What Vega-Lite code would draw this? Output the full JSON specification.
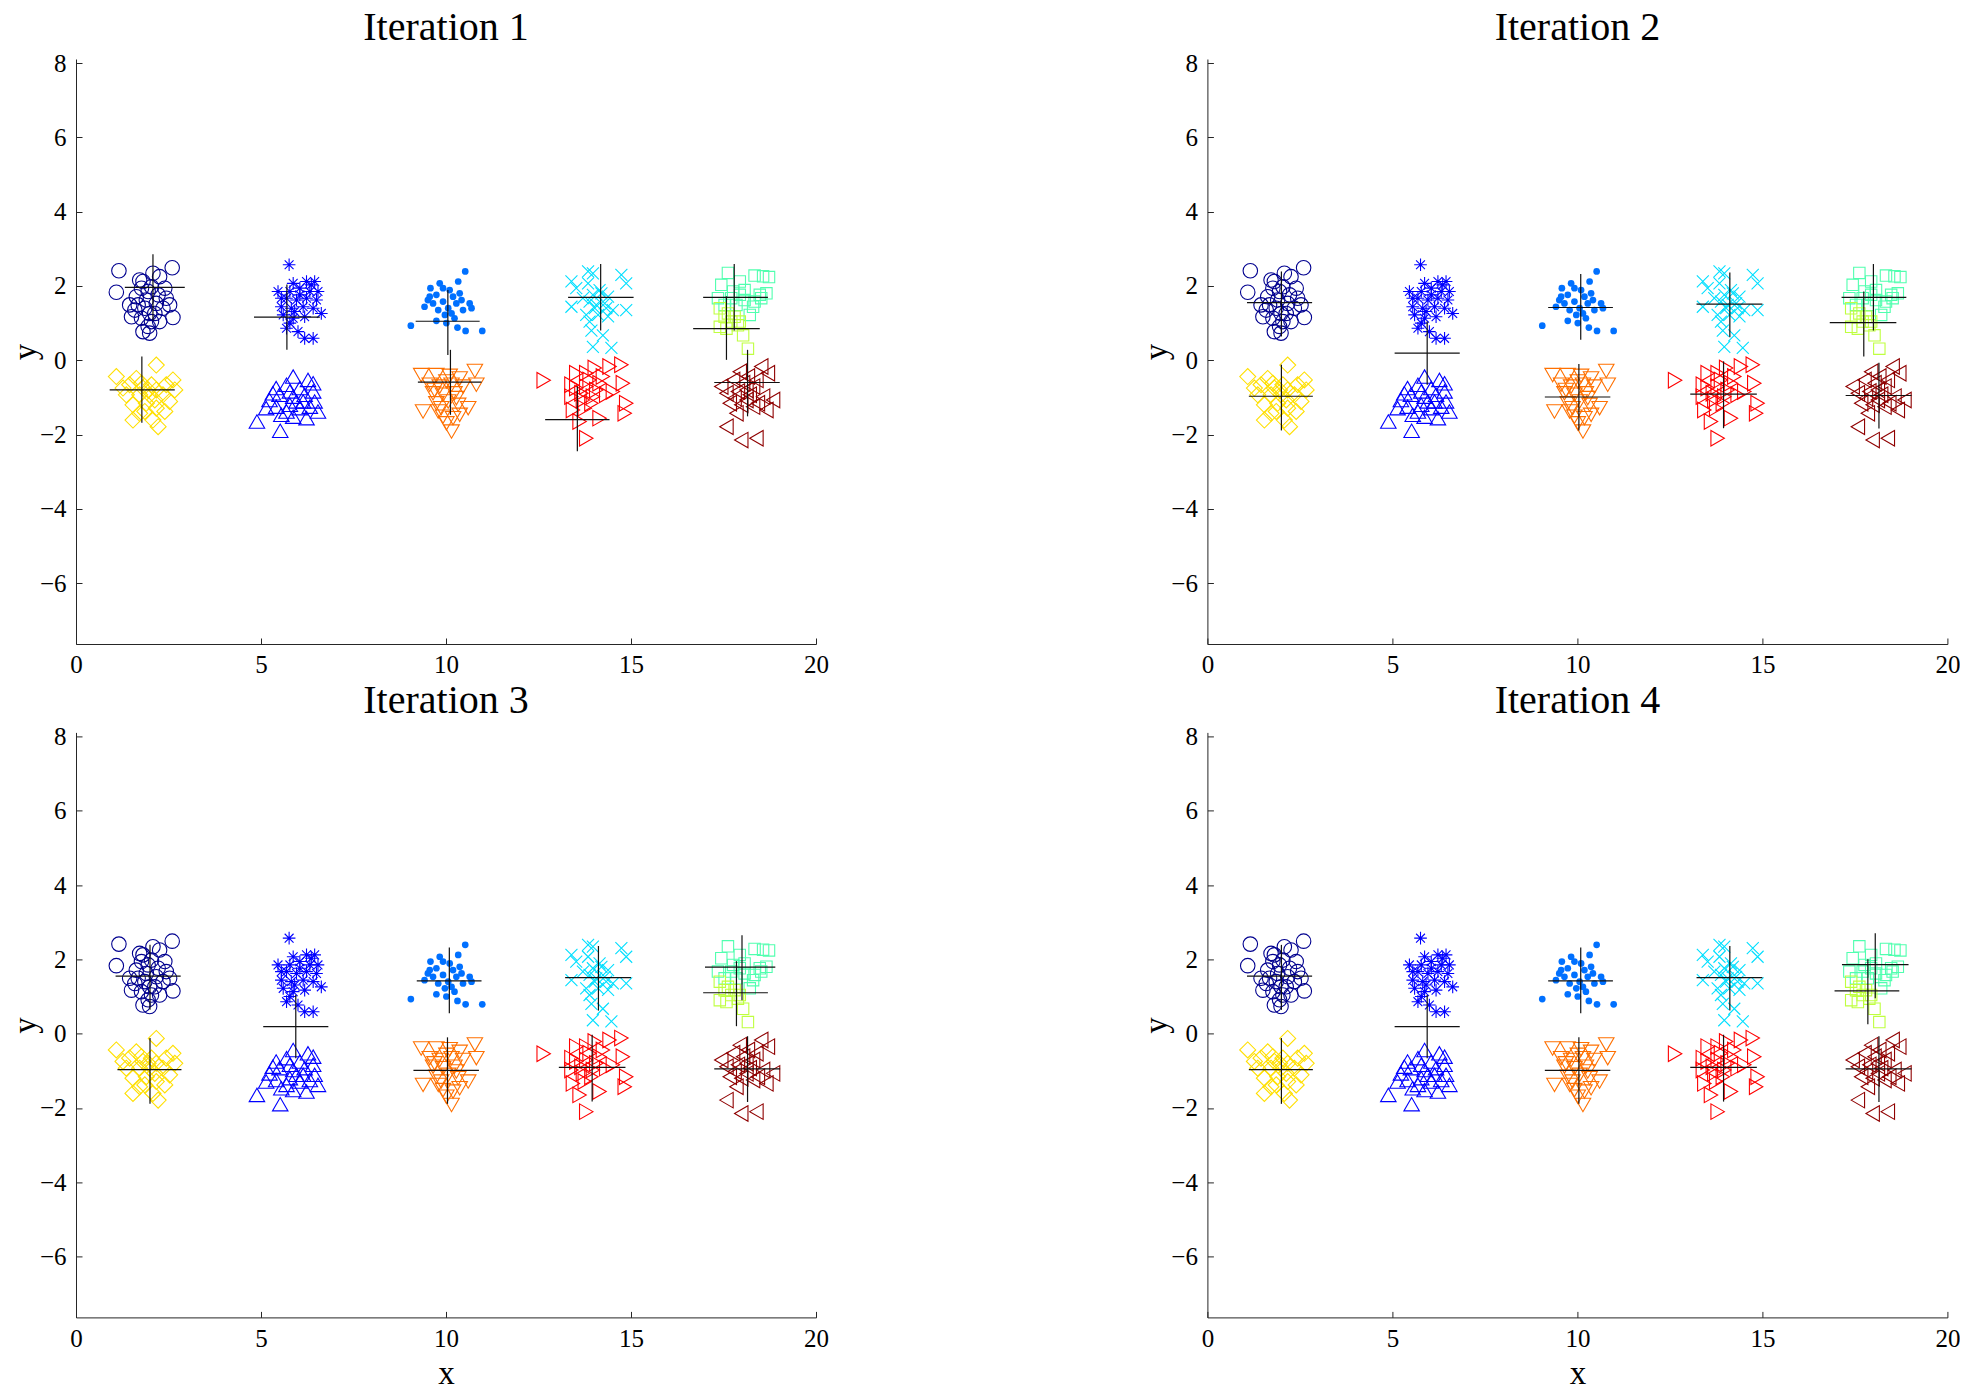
{
"$schema": "https://vega.github.io/schema/vega-lite/v6.json",
"background": "white",
"padding": {"left": 9, "top": 8, "right": 0, "bottom": 0},
"datasets": {
"pts": [
{"cls":"circ","x":1.16,"y":2.41},{"cls":"circ","x":1.09,"y":1.83},{"cls":"circ","x":2.60,"y":2.49},{"cls":"circ","x":1.72,"y":2.16},{"cls":"circ","x":2.26,"y":2.25},{"cls":"circ","x":2.08,"y":2.34},{"cls":"circ","x":1.77,"y":1.94},{"cls":"circ","x":2.04,"y":1.98},{"cls":"circ","x":2.44,"y":1.67},{"cls":"circ","x":2.40,"y":1.94},{"cls":"circ","x":1.63,"y":1.71},{"cls":"circ","x":1.90,"y":1.62},{"cls":"circ","x":2.17,"y":1.53},{"cls":"circ","x":1.59,"y":1.35},{"cls":"circ","x":1.86,"y":1.40},{"cls":"circ","x":2.13,"y":1.26},{"cls":"circ","x":2.35,"y":1.40},{"cls":"circ","x":2.62,"y":1.15},{"cls":"circ","x":1.50,"y":1.17},{"cls":"circ","x":1.77,"y":1.13},{"cls":"circ","x":2.04,"y":1.04},{"cls":"circ","x":1.95,"y":0.91},{"cls":"circ","x":1.99,"y":0.73},{"cls":"circ","x":1.81,"y":0.77},{"cls":"circ","x":2.22,"y":1.76},{"cls":"circ","x":1.95,"y":1.85},{"cls":"circ","x":1.68,"y":1.49},{"cls":"circ","x":1.99,"y":1.26},{"cls":"circ","x":2.26,"y":1.04},{"cls":"circ","x":1.45,"y":1.49},{"cls":"circ","x":2.53,"y":1.49},{"cls":"circ","x":1.81,"y":2.12},
{"cls":"ast","x":5.76,"y":2.57},{"cls":"ast","x":5.46,"y":1.85},{"cls":"ast","x":5.87,"y":2.07},{"cls":"ast","x":6.23,"y":2.12},{"cls":"ast","x":6.45,"y":2.12},{"cls":"ast","x":6.05,"y":1.94},{"cls":"ast","x":6.32,"y":1.85},{"cls":"ast","x":6.54,"y":1.85},{"cls":"ast","x":5.69,"y":1.67},{"cls":"ast","x":5.96,"y":1.62},{"cls":"ast","x":6.23,"y":1.67},{"cls":"ast","x":6.50,"y":1.62},{"cls":"ast","x":5.55,"y":1.44},{"cls":"ast","x":5.82,"y":1.40},{"cls":"ast","x":6.14,"y":1.44},{"cls":"ast","x":6.41,"y":1.40},{"cls":"ast","x":6.63,"y":1.26},{"cls":"ast","x":5.60,"y":1.22},{"cls":"ast","x":5.87,"y":1.13},{"cls":"ast","x":6.18,"y":1.17},{"cls":"ast","x":5.69,"y":0.86},{"cls":"ast","x":6.00,"y":0.77},{"cls":"ast","x":6.18,"y":0.59},{"cls":"ast","x":6.41,"y":0.59},{"cls":"ast","x":5.78,"y":1.00},{"cls":"ast","x":5.55,"y":1.67},{"cls":"ast","x":5.78,"y":1.85},{"cls":"ast","x":6.05,"y":1.76},{"cls":"ast","x":6.36,"y":2.03},{"cls":"ast","x":5.91,"y":1.31},
{"cls":"dot","x":9.83,"y":2.07},{"cls":"dot","x":9.58,"y":1.94},{"cls":"dot","x":10.33,"y":2.12},{"cls":"dot","x":10.10,"y":1.89},{"cls":"dot","x":9.51,"y":1.62},{"cls":"dot","x":9.74,"y":1.76},{"cls":"dot","x":9.92,"y":1.58},{"cls":"dot","x":10.19,"y":1.71},{"cls":"dot","x":10.42,"y":1.62},{"cls":"dot","x":10.64,"y":1.53},{"cls":"dot","x":9.42,"y":1.44},{"cls":"dot","x":9.79,"y":1.35},{"cls":"dot","x":10.06,"y":1.40},{"cls":"dot","x":10.46,"y":1.35},{"cls":"dot","x":10.69,"y":1.40},{"cls":"dot","x":10.23,"y":1.13},{"cls":"dot","x":10.01,"y":1.00},{"cls":"dot","x":9.74,"y":1.06},{"cls":"dot","x":10.31,"y":0.88},{"cls":"dot","x":10.53,"y":0.79},{"cls":"dot","x":10.98,"y":0.79},{"cls":"dot","x":9.05,"y":0.93},{"cls":"dot","x":10.52,"y":2.39},{"cls":"dot","x":9.65,"y":1.53},{"cls":"dot","x":10.28,"y":1.53},{"cls":"dot","x":9.97,"y":1.22},{"cls":"dot","x":9.56,"y":1.71},{"cls":"dot","x":10.37,"y":1.80},{"cls":"dot","x":10.15,"y":1.26},{"cls":"dot","x":9.92,"y":1.94},
{"cls":"dia","x":1.09,"y":-0.44},{"cls":"dia","x":2.17,"y":-0.13},{"cls":"dia","x":1.63,"y":-0.49},{"cls":"dia","x":2.62,"y":-0.53},{"cls":"dia","x":1.36,"y":-0.93},{"cls":"dia","x":1.81,"y":-0.75},{"cls":"dia","x":1.99,"y":-0.93},{"cls":"dia","x":2.17,"y":-0.80},{"cls":"dia","x":2.53,"y":-1.11},{"cls":"dia","x":2.67,"y":-0.80},{"cls":"dia","x":1.54,"y":-1.20},{"cls":"dia","x":1.90,"y":-1.16},{"cls":"dia","x":2.17,"y":-1.29},{"cls":"dia","x":1.72,"y":-1.43},{"cls":"dia","x":1.54,"y":-1.61},{"cls":"dia","x":2.08,"y":-1.61},{"cls":"dia","x":2.22,"y":-1.79},{"cls":"dia","x":2.40,"y":-1.38},{"cls":"dia","x":1.77,"y":-0.62},{"cls":"dia","x":2.04,"y":-0.66},{"cls":"dia","x":1.45,"y":-0.66},{"cls":"dia","x":1.72,"y":-0.93},{"cls":"dia","x":2.13,"y":-1.07},{"cls":"dia","x":1.95,"y":-0.80},{"cls":"dia","x":1.86,"y":-1.38},{"cls":"dia","x":2.35,"y":-0.93},{"cls":"dia","x":1.27,"y":-0.75},{"cls":"dia","x":2.44,"y":-0.66},
{"cls":"tup","x":4.89,"y":-1.65},{"cls":"tup","x":5.52,"y":-1.90},{"cls":"tup","x":5.87,"y":-0.44},{"cls":"tup","x":6.27,"y":-0.53},{"cls":"tup","x":6.41,"y":-0.62},{"cls":"tup","x":5.41,"y":-0.75},{"cls":"tup","x":5.69,"y":-0.66},{"cls":"tup","x":6.05,"y":-0.75},{"cls":"tup","x":5.23,"y":-1.07},{"cls":"tup","x":5.50,"y":-0.93},{"cls":"tup","x":5.87,"y":-0.98},{"cls":"tup","x":6.18,"y":-0.93},{"cls":"tup","x":6.45,"y":-1.11},{"cls":"tup","x":5.14,"y":-1.29},{"cls":"tup","x":5.41,"y":-1.25},{"cls":"tup","x":5.78,"y":-1.20},{"cls":"tup","x":6.05,"y":-1.29},{"cls":"tup","x":6.32,"y":-1.25},{"cls":"tup","x":6.54,"y":-1.38},{"cls":"tup","x":5.55,"y":-1.47},{"cls":"tup","x":5.87,"y":-1.52},{"cls":"tup","x":6.23,"y":-1.56},{"cls":"tup","x":5.78,"y":-0.84},{"cls":"tup","x":5.96,"y":-1.11},{"cls":"tup","x":5.32,"y":-0.89},{"cls":"tup","x":6.41,"y":-0.84},{"cls":"tup","x":5.69,"y":-1.38},{"cls":"tup","x":6.14,"y":-1.11},
{"cls":"tdn","x":9.33,"y":-0.40},{"cls":"tdn","x":10.78,"y":-0.29},{"cls":"tdn","x":10.82,"y":-0.66},{"cls":"tdn","x":9.74,"y":-0.40},{"cls":"tdn","x":10.10,"y":-0.42},{"cls":"tdn","x":10.37,"y":-0.49},{"cls":"tdn","x":9.56,"y":-0.66},{"cls":"tdn","x":9.83,"y":-0.71},{"cls":"tdn","x":10.15,"y":-0.66},{"cls":"tdn","x":10.46,"y":-0.71},{"cls":"tdn","x":9.65,"y":-0.89},{"cls":"tdn","x":9.92,"y":-0.93},{"cls":"tdn","x":10.23,"y":-0.89},{"cls":"tdn","x":9.74,"y":-1.16},{"cls":"tdn","x":10.06,"y":-1.11},{"cls":"tdn","x":10.33,"y":-1.20},{"cls":"tdn","x":10.60,"y":-1.29},{"cls":"tdn","x":9.38,"y":-1.38},{"cls":"tdn","x":9.79,"y":-1.38},{"cls":"tdn","x":10.19,"y":-1.56},{"cls":"tdn","x":10.01,"y":-1.70},{"cls":"tdn","x":10.15,"y":-1.92},{"cls":"tdn","x":9.92,"y":-1.52},{"cls":"tdn","x":10.37,"y":-1.47},{"cls":"tdn","x":9.69,"y":-0.80},{"cls":"tdn","x":10.01,"y":-0.57},{"cls":"tdn","x":10.28,"y":-1.02},{"cls":"tdn","x":9.87,"y":-1.29},
{"cls":"xs","x":13.39,"y":2.12},{"cls":"xs","x":13.84,"y":2.39},{"cls":"xs","x":13.97,"y":2.34},{"cls":"xs","x":14.74,"y":2.30},{"cls":"xs","x":14.87,"y":2.07},{"cls":"xs","x":13.52,"y":1.94},{"cls":"xs","x":13.84,"y":2.07},{"cls":"xs","x":13.39,"y":1.44},{"cls":"xs","x":14.87,"y":1.35},{"cls":"xs","x":13.97,"y":1.76},{"cls":"xs","x":14.20,"y":1.80},{"cls":"xs","x":14.38,"y":1.71},{"cls":"xs","x":13.88,"y":1.58},{"cls":"xs","x":14.06,"y":1.49},{"cls":"xs","x":14.29,"y":1.53},{"cls":"xs","x":14.51,"y":1.35},{"cls":"xs","x":13.79,"y":1.22},{"cls":"xs","x":14.11,"y":1.22},{"cls":"xs","x":14.38,"y":1.18},{"cls":"xs","x":13.88,"y":1.04},{"cls":"xs","x":13.93,"y":0.80},{"cls":"xs","x":14.24,"y":0.67},{"cls":"xs","x":13.97,"y":0.36},{"cls":"xs","x":14.47,"y":0.33},{"cls":"xs","x":14.15,"y":1.89},{"cls":"xs","x":14.02,"y":1.40},{"cls":"xs","x":14.33,"y":1.40},{"cls":"xs","x":13.70,"y":1.67},
{"cls":"sqa","x":17.62,"y":2.35},{"cls":"sqa","x":17.94,"y":2.12},{"cls":"sqa","x":18.34,"y":2.28},{"cls":"sqa","x":18.57,"y":2.26},{"cls":"sqa","x":18.73,"y":2.24},{"cls":"sqa","x":17.44,"y":2.03},{"cls":"sqa","x":17.76,"y":1.85},{"cls":"sqa","x":18.66,"y":1.80},{"cls":"sqa","x":18.48,"y":1.76},{"cls":"sqa","x":17.35,"y":1.67},{"cls":"sqa","x":17.71,"y":1.67},{"cls":"sqa","x":18.07,"y":1.62},{"cls":"sqa","x":18.34,"y":1.58},{"cls":"sqa","x":17.94,"y":1.76},{"cls":"sqa","x":18.30,"y":1.44},{"cls":"sqa","x":18.21,"y":1.22},{"cls":"sqa","x":17.85,"y":1.49},{"cls":"sqa","x":17.53,"y":1.49},{"cls":"sqa","x":18.52,"y":1.67},{"cls":"sqa","x":18.07,"y":1.89},
{"cls":"sql","x":17.40,"y":1.40},{"cls":"sql","x":17.62,"y":1.26},{"cls":"sql","x":17.80,"y":1.17},{"cls":"sql","x":17.94,"y":1.04},{"cls":"sql","x":17.40,"y":0.90},{"cls":"sql","x":17.58,"y":0.85},{"cls":"sql","x":17.89,"y":0.94},{"cls":"sql","x":18.03,"y":0.67},{"cls":"sql","x":18.16,"y":0.31},{"cls":"sql","x":17.71,"y":1.04},{"cls":"sql","x":17.53,"y":1.17},
{"cls":"trr","x":12.64,"y":-0.54},{"cls":"trr","x":13.39,"y":-0.66},{"cls":"trr","x":13.79,"y":-0.35},{"cls":"trr","x":14.02,"y":-0.21},{"cls":"trr","x":14.42,"y":-0.17},{"cls":"trr","x":14.74,"y":-0.12},{"cls":"trr","x":14.24,"y":-0.44},{"cls":"trr","x":14.78,"y":-0.62},{"cls":"trr","x":13.52,"y":-0.75},{"cls":"trr","x":13.79,"y":-0.71},{"cls":"trr","x":14.06,"y":-0.80},{"cls":"trr","x":13.39,"y":-0.98},{"cls":"trr","x":13.70,"y":-1.07},{"cls":"trr","x":13.97,"y":-0.98},{"cls":"trr","x":14.33,"y":-0.93},{"cls":"trr","x":14.87,"y":-1.16},{"cls":"trr","x":14.83,"y":-1.43},{"cls":"trr","x":13.43,"y":-1.34},{"cls":"trr","x":13.75,"y":-1.29},{"cls":"trr","x":14.15,"y":-1.56},{"cls":"trr","x":13.79,"y":-2.10},{"cls":"trr","x":13.61,"y":-1.65},{"cls":"trr","x":14.15,"y":-0.62},{"cls":"trr","x":13.66,"y":-0.89},{"cls":"trr","x":13.88,"y":-0.53},{"cls":"trr","x":13.52,"y":-0.35},{"cls":"trr","x":13.93,"y":-1.16},{"cls":"trr","x":14.51,"y":-0.84},
{"cls":"trl","x":17.44,"y":-0.71},{"cls":"trl","x":18.52,"y":-0.17},{"cls":"trl","x":18.70,"y":-0.35},{"cls":"trl","x":17.94,"y":-0.31},{"cls":"trl","x":18.16,"y":-0.44},{"cls":"trl","x":17.76,"y":-0.53},{"cls":"trl","x":18.03,"y":-0.62},{"cls":"trl","x":18.30,"y":-0.71},{"cls":"trl","x":17.58,"y":-0.89},{"cls":"trl","x":17.89,"y":-0.84},{"cls":"trl","x":18.21,"y":-0.93},{"cls":"trl","x":18.57,"y":-0.98},{"cls":"trl","x":18.84,"y":-1.07},{"cls":"trl","x":17.67,"y":-1.16},{"cls":"trl","x":17.98,"y":-1.20},{"cls":"trl","x":18.30,"y":-1.25},{"cls":"trl","x":18.66,"y":-1.34},{"cls":"trl","x":17.58,"y":-1.79},{"cls":"trl","x":17.98,"y":-2.15},{"cls":"trl","x":18.39,"y":-2.10},{"cls":"trl","x":17.80,"y":-1.02},{"cls":"trl","x":18.12,"y":-1.07},{"cls":"trl","x":18.43,"y":-1.16},{"cls":"trl","x":17.85,"y":-1.43},{"cls":"trl","x":18.12,"y":-0.80},{"cls":"trl","x":18.39,"y":-0.53}
],
"cross": [
{"it":1,"cx":2.08,"cy":1.96,"x1":1.32,"x2":2.94,"y1":1.07,"y2":2.85},
{"it":1,"cx":5.70,"cy":1.16,"x1":4.81,"x2":6.59,"y1":0.28,"y2":2.04},
{"it":1,"cx":10.05,"cy":1.05,"x1":9.18,"x2":10.91,"y1":0.14,"y2":1.89},
{"it":1,"cx":1.78,"cy":-0.80,"x1":0.91,"x2":2.67,"y1":-1.68,"y2":0.10},
{"it":1,"cx":10.12,"cy":-0.59,"x1":9.24,"x2":10.96,"y1":-1.47,"y2":0.28},
{"it":1,"cx":14.18,"cy":1.69,"x1":13.30,"x2":15.07,"y1":0.80,"y2":2.59},
{"it":1,"cx":17.79,"cy":1.69,"x1":16.95,"x2":18.70,"y1":0.80,"y2":2.59},
{"it":1,"cx":17.58,"cy":0.85,"x1":16.68,"x2":18.48,"y1":0.01,"y2":1.72},
{"it":1,"cx":13.55,"cy":-1.60,"x1":12.68,"x2":14.42,"y1":-2.45,"y2":-0.70},
{"it":1,"cx":18.15,"cy":-0.60,"x1":17.25,"x2":19.02,"y1":-1.51,"y2":0.28},
{"it":2,"cx":2.00,"cy":1.55,"x1":1.07,"x2":2.83,"y1":0.64,"y2":2.39},
{"it":2,"cx":2.00,"cy":-0.97,"x1":1.12,"x2":2.85,"y1":-1.89,"y2":-0.12},
{"it":2,"cx":5.94,"cy":0.19,"x1":5.06,"x2":6.82,"y1":-0.66,"y2":1.04},
{"it":2,"cx":10.09,"cy":1.42,"x1":9.21,"x2":10.96,"y1":0.55,"y2":2.32},
{"it":2,"cx":10.04,"cy":-0.99,"x1":9.12,"x2":10.89,"y1":-1.89,"y2":-0.10},
{"it":2,"cx":14.12,"cy":1.51,"x1":13.22,"x2":15.00,"y1":0.62,"y2":2.36},
{"it":2,"cx":18.00,"cy":1.69,"x1":17.14,"x2":18.89,"y1":0.80,"y2":2.59},
{"it":2,"cx":17.74,"cy":1.01,"x1":16.82,"x2":18.62,"y1":0.10,"y2":1.85},
{"it":2,"cx":13.95,"cy":-0.91,"x1":13.05,"x2":14.85,"y1":-1.83,"y2":-0.03},
{"it":2,"cx":18.15,"cy":-0.95,"x1":17.25,"x2":19.03,"y1":-1.84,"y2":-0.07},
{"it":3,"cx":2.00,"cy":1.55,"x1":1.07,"x2":2.83,"y1":0.64,"y2":2.39},
{"it":3,"cx":2.00,"cy":-0.97,"x1":1.12,"x2":2.85,"y1":-1.89,"y2":-0.12},
{"it":3,"cx":5.94,"cy":0.19,"x1":5.06,"x2":6.82,"y1":-0.66,"y2":1.04},
{"it":3,"cx":10.09,"cy":1.42,"x1":9.21,"x2":10.96,"y1":0.55,"y2":2.32},
{"it":3,"cx":10.04,"cy":-0.99,"x1":9.12,"x2":10.89,"y1":-1.89,"y2":-0.10},
{"it":3,"cx":14.12,"cy":1.51,"x1":13.22,"x2":15.00,"y1":0.62,"y2":2.36},
{"it":3,"cx":18.00,"cy":1.79,"x1":17.00,"x2":18.90,"y1":0.90,"y2":2.65},
{"it":3,"cx":17.85,"cy":1.10,"x1":16.95,"x2":18.70,"y1":0.20,"y2":1.95},
{"it":3,"cx":13.95,"cy":-0.91,"x1":13.05,"x2":14.85,"y1":-1.83,"y2":-0.03},
{"it":3,"cx":18.15,"cy":-0.95,"x1":17.25,"x2":19.03,"y1":-1.84,"y2":-0.07},
{"it":4,"cx":2.00,"cy":1.55,"x1":1.07,"x2":2.83,"y1":0.64,"y2":2.39},
{"it":4,"cx":2.00,"cy":-0.97,"x1":1.12,"x2":2.85,"y1":-1.89,"y2":-0.12},
{"it":4,"cx":5.94,"cy":0.19,"x1":5.06,"x2":6.82,"y1":-0.66,"y2":1.04},
{"it":4,"cx":10.09,"cy":1.42,"x1":9.21,"x2":10.96,"y1":0.55,"y2":2.32},
{"it":4,"cx":10.04,"cy":-0.99,"x1":9.12,"x2":10.89,"y1":-1.89,"y2":-0.10},
{"it":4,"cx":14.12,"cy":1.51,"x1":13.22,"x2":15.00,"y1":0.62,"y2":2.36},
{"it":4,"cx":18.05,"cy":1.86,"x1":17.15,"x2":18.95,"y1":0.95,"y2":2.70},
{"it":4,"cx":17.85,"cy":1.15,"x1":16.95,"x2":18.70,"y1":0.25,"y2":2.00},
{"it":4,"cx":13.95,"cy":-0.91,"x1":13.05,"x2":14.85,"y1":-1.83,"y2":-0.03},
{"it":4,"cx":18.15,"cy":-0.95,"x1":17.25,"x2":19.03,"y1":-1.84,"y2":-0.07}
]
},
"columns": 2,
"spacing": {"row": 88.4, "column": 391.4},
"bounds": "flush",
"concat": [
{"title": "Iteration 1", "width": 740, "height": 585, "layer": [
 {"data": {"name": "pts"}, "transform": [{"filter": "datum.cls !== 'dot'"}],
  "mark": {"type": "point", "filled": false, "strokeWidth": 1.1, "opacity": 1},
  "encoding": {
   "x": {"field": "x", "type": "quantitative", "scale": {"domain": [0, 20], "nice": false, "zero": false}, "axis": {"values": [0,5,10,15,20], "title": null, "grid": false, "tickSize": -6, "labelPadding": 26.7, "labelBaseline": "middle", "labelFlush": false, "labelOverlap": false}},
   "y": {"field": "y", "type": "quantitative", "scale": {"domain": [-7.64, 8.11], "nice": false, "zero": false}, "axis": {"values": [-6,-4,-2,0,2,4,6,8], "title": "y", "grid": false, "tickSize": -6, "labelPadding": 16, "labelFlush": false, "labelOverlap": false, "titleX": -41, "titleY": 292.5, "titleAngle": 270, "titleBaseline": "alphabetic", "titleAlign": "center"}},
   "shape": {"field": "cls", "type": "nominal", "legend": null, "scale": {"domain": ["circ","ast","dia","tup","tdn","xs","sqa","sql","trr","trl"], "range": ["circle","M-1,0L1,0M0,-1L0,1M-0.7,-0.7L0.7,0.7M-0.7,0.7L0.7,-0.7","diamond","triangle-up","triangle-down","M-1,-1L1,1M-1,1L1,-1","square","square","triangle-right","triangle-left"]}},
   "stroke": {"field": "cls", "type": "nominal", "legend": null, "scale": {"domain": ["circ","ast","dia","tup","tdn","xs","sqa","sql","trr","trl"], "range": ["#00008F","#0000FF","#FFDF00","#0000FF","#FF7000","#00DFFF","#50FFAF","#BFFF40","#FF0000","#8F0000"]}},
   "size": {"field": "cls", "type": "nominal", "legend": null, "scale": {"type": "ordinal", "domain": ["circ","ast","dia","tup","tdn","xs","sqa","sql","trr","trl"], "range": [210,160,256,240,240,144,130,130,240,240]}}
  }},
 {"data": {"name": "pts"}, "transform": [{"filter": "datum.cls === 'dot'"}],
  "mark": {"type": "point", "filled": true, "shape": "circle", "size": 45, "opacity": 1, "color": "#0070FF"},
  "encoding": {"x": {"field": "x", "type": "quantitative", "title": null, "scale": {"domain": [0, 20], "nice": false, "zero": false}}, "y": {"field": "y", "type": "quantitative", "title": "y", "scale": {"domain": [-7.64, 8.11], "nice": false, "zero": false}}}},
 {"data": {"name": "cross"}, "transform": [{"filter": "datum.it === 1"}],
  "mark": {"type": "rule", "color": "#111111", "strokeWidth": 1.2},
  "encoding": {"x": {"field": "x1", "type": "quantitative", "title": null, "scale": {"domain": [0, 20], "nice": false, "zero": false}}, "x2": {"field": "x2"}, "y": {"field": "cy", "type": "quantitative", "title": "y", "scale": {"domain": [-7.64, 8.11], "nice": false, "zero": false}}}},
 {"data": {"name": "cross"}, "transform": [{"filter": "datum.it === 1"}],
  "mark": {"type": "rule", "color": "#111111", "strokeWidth": 1.2},
  "encoding": {"x": {"field": "cx", "type": "quantitative", "title": null, "scale": {"domain": [0, 20], "nice": false, "zero": false}}, "y": {"field": "y1", "type": "quantitative", "title": "y", "scale": {"domain": [-7.64, 8.11], "nice": false, "zero": false}}, "y2": {"field": "y2"}}}
]},
{"title": "Iteration 2", "width": 740, "height": 585, "layer": [
 {"data": {"name": "pts"}, "transform": [{"filter": "datum.cls !== 'dot'"}],
  "mark": {"type": "point", "filled": false, "strokeWidth": 1.1, "opacity": 1},
  "encoding": {
   "x": {"field": "x", "type": "quantitative", "scale": {"domain": [0, 20], "nice": false, "zero": false}, "axis": {"values": [0,5,10,15,20], "title": null, "grid": false, "tickSize": -6, "labelPadding": 26.7, "labelBaseline": "middle", "labelFlush": false, "labelOverlap": false}},
   "y": {"field": "y", "type": "quantitative", "scale": {"domain": [-7.64, 8.11], "nice": false, "zero": false}, "axis": {"values": [-6,-4,-2,0,2,4,6,8], "title": "y", "grid": false, "tickSize": -6, "labelPadding": 16, "labelFlush": false, "labelOverlap": false, "titleX": -41, "titleY": 292.5, "titleAngle": 270, "titleBaseline": "alphabetic", "titleAlign": "center"}},
   "shape": {"field": "cls", "type": "nominal", "legend": null, "scale": {"domain": ["circ","ast","dia","tup","tdn","xs","sqa","sql","trr","trl"], "range": ["circle","M-1,0L1,0M0,-1L0,1M-0.7,-0.7L0.7,0.7M-0.7,0.7L0.7,-0.7","diamond","triangle-up","triangle-down","M-1,-1L1,1M-1,1L1,-1","square","square","triangle-right","triangle-left"]}},
   "stroke": {"field": "cls", "type": "nominal", "legend": null, "scale": {"domain": ["circ","ast","dia","tup","tdn","xs","sqa","sql","trr","trl"], "range": ["#00008F","#0000FF","#FFDF00","#0000FF","#FF7000","#00DFFF","#50FFAF","#BFFF40","#FF0000","#8F0000"]}},
   "size": {"field": "cls", "type": "nominal", "legend": null, "scale": {"type": "ordinal", "domain": ["circ","ast","dia","tup","tdn","xs","sqa","sql","trr","trl"], "range": [210,160,256,240,240,144,130,130,240,240]}}
  }},
 {"data": {"name": "pts"}, "transform": [{"filter": "datum.cls === 'dot'"}],
  "mark": {"type": "point", "filled": true, "shape": "circle", "size": 45, "opacity": 1, "color": "#0070FF"},
  "encoding": {"x": {"field": "x", "type": "quantitative", "title": null, "scale": {"domain": [0, 20], "nice": false, "zero": false}}, "y": {"field": "y", "type": "quantitative", "title": "y", "scale": {"domain": [-7.64, 8.11], "nice": false, "zero": false}}}},
 {"data": {"name": "cross"}, "transform": [{"filter": "datum.it === 2"}],
  "mark": {"type": "rule", "color": "#111111", "strokeWidth": 1.2},
  "encoding": {"x": {"field": "x1", "type": "quantitative", "title": null, "scale": {"domain": [0, 20], "nice": false, "zero": false}}, "x2": {"field": "x2"}, "y": {"field": "cy", "type": "quantitative", "title": "y", "scale": {"domain": [-7.64, 8.11], "nice": false, "zero": false}}}},
 {"data": {"name": "cross"}, "transform": [{"filter": "datum.it === 2"}],
  "mark": {"type": "rule", "color": "#111111", "strokeWidth": 1.2},
  "encoding": {"x": {"field": "cx", "type": "quantitative", "title": null, "scale": {"domain": [0, 20], "nice": false, "zero": false}}, "y": {"field": "y1", "type": "quantitative", "title": "y", "scale": {"domain": [-7.64, 8.11], "nice": false, "zero": false}}, "y2": {"field": "y2"}}}
]},
{"title": "Iteration 3", "width": 740, "height": 585, "layer": [
 {"data": {"name": "pts"}, "transform": [{"filter": "datum.cls !== 'dot'"}],
  "mark": {"type": "point", "filled": false, "strokeWidth": 1.1, "opacity": 1},
  "encoding": {
   "x": {"field": "x", "type": "quantitative", "scale": {"domain": [0, 20], "nice": false, "zero": false}, "axis": {"values": [0,5,10,15,20], "title": "x", "grid": false, "tickSize": -6, "labelPadding": 26.7, "labelBaseline": "middle", "labelFlush": false, "labelOverlap": false, "titleX": 370, "titleY": 66, "titleBaseline": "alphabetic", "titleAlign": "center"}},
   "y": {"field": "y", "type": "quantitative", "scale": {"domain": [-7.64, 8.11], "nice": false, "zero": false}, "axis": {"values": [-6,-4,-2,0,2,4,6,8], "title": "y", "grid": false, "tickSize": -6, "labelPadding": 16, "labelFlush": false, "labelOverlap": false, "titleX": -41, "titleY": 292.5, "titleAngle": 270, "titleBaseline": "alphabetic", "titleAlign": "center"}},
   "shape": {"field": "cls", "type": "nominal", "legend": null, "scale": {"domain": ["circ","ast","dia","tup","tdn","xs","sqa","sql","trr","trl"], "range": ["circle","M-1,0L1,0M0,-1L0,1M-0.7,-0.7L0.7,0.7M-0.7,0.7L0.7,-0.7","diamond","triangle-up","triangle-down","M-1,-1L1,1M-1,1L1,-1","square","square","triangle-right","triangle-left"]}},
   "stroke": {"field": "cls", "type": "nominal", "legend": null, "scale": {"domain": ["circ","ast","dia","tup","tdn","xs","sqa","sql","trr","trl"], "range": ["#00008F","#0000FF","#FFDF00","#0000FF","#FF7000","#00DFFF","#50FFAF","#BFFF40","#FF0000","#8F0000"]}},
   "size": {"field": "cls", "type": "nominal", "legend": null, "scale": {"type": "ordinal", "domain": ["circ","ast","dia","tup","tdn","xs","sqa","sql","trr","trl"], "range": [210,160,256,240,240,144,130,130,240,240]}}
  }},
 {"data": {"name": "pts"}, "transform": [{"filter": "datum.cls === 'dot'"}],
  "mark": {"type": "point", "filled": true, "shape": "circle", "size": 45, "opacity": 1, "color": "#0070FF"},
  "encoding": {"x": {"field": "x", "type": "quantitative", "title": "x", "scale": {"domain": [0, 20], "nice": false, "zero": false}}, "y": {"field": "y", "type": "quantitative", "title": "y", "scale": {"domain": [-7.64, 8.11], "nice": false, "zero": false}}}},
 {"data": {"name": "cross"}, "transform": [{"filter": "datum.it === 3"}],
  "mark": {"type": "rule", "color": "#111111", "strokeWidth": 1.2},
  "encoding": {"x": {"field": "x1", "type": "quantitative", "title": "x", "scale": {"domain": [0, 20], "nice": false, "zero": false}}, "x2": {"field": "x2"}, "y": {"field": "cy", "type": "quantitative", "title": "y", "scale": {"domain": [-7.64, 8.11], "nice": false, "zero": false}}}},
 {"data": {"name": "cross"}, "transform": [{"filter": "datum.it === 3"}],
  "mark": {"type": "rule", "color": "#111111", "strokeWidth": 1.2},
  "encoding": {"x": {"field": "cx", "type": "quantitative", "title": "x", "scale": {"domain": [0, 20], "nice": false, "zero": false}}, "y": {"field": "y1", "type": "quantitative", "title": "y", "scale": {"domain": [-7.64, 8.11], "nice": false, "zero": false}}, "y2": {"field": "y2"}}}
]},
{"title": "Iteration 4", "width": 740, "height": 585, "layer": [
 {"data": {"name": "pts"}, "transform": [{"filter": "datum.cls !== 'dot'"}],
  "mark": {"type": "point", "filled": false, "strokeWidth": 1.1, "opacity": 1},
  "encoding": {
   "x": {"field": "x", "type": "quantitative", "scale": {"domain": [0, 20], "nice": false, "zero": false}, "axis": {"values": [0,5,10,15,20], "title": "x", "grid": false, "tickSize": -6, "labelPadding": 26.7, "labelBaseline": "middle", "labelFlush": false, "labelOverlap": false, "titleX": 370, "titleY": 66, "titleBaseline": "alphabetic", "titleAlign": "center"}},
   "y": {"field": "y", "type": "quantitative", "scale": {"domain": [-7.64, 8.11], "nice": false, "zero": false}, "axis": {"values": [-6,-4,-2,0,2,4,6,8], "title": "y", "grid": false, "tickSize": -6, "labelPadding": 16, "labelFlush": false, "labelOverlap": false, "titleX": -41, "titleY": 292.5, "titleAngle": 270, "titleBaseline": "alphabetic", "titleAlign": "center"}},
   "shape": {"field": "cls", "type": "nominal", "legend": null, "scale": {"domain": ["circ","ast","dia","tup","tdn","xs","sqa","sql","trr","trl"], "range": ["circle","M-1,0L1,0M0,-1L0,1M-0.7,-0.7L0.7,0.7M-0.7,0.7L0.7,-0.7","diamond","triangle-up","triangle-down","M-1,-1L1,1M-1,1L1,-1","square","square","triangle-right","triangle-left"]}},
   "stroke": {"field": "cls", "type": "nominal", "legend": null, "scale": {"domain": ["circ","ast","dia","tup","tdn","xs","sqa","sql","trr","trl"], "range": ["#00008F","#0000FF","#FFDF00","#0000FF","#FF7000","#00DFFF","#50FFAF","#BFFF40","#FF0000","#8F0000"]}},
   "size": {"field": "cls", "type": "nominal", "legend": null, "scale": {"type": "ordinal", "domain": ["circ","ast","dia","tup","tdn","xs","sqa","sql","trr","trl"], "range": [210,160,256,240,240,144,130,130,240,240]}}
  }},
 {"data": {"name": "pts"}, "transform": [{"filter": "datum.cls === 'dot'"}],
  "mark": {"type": "point", "filled": true, "shape": "circle", "size": 45, "opacity": 1, "color": "#0070FF"},
  "encoding": {"x": {"field": "x", "type": "quantitative", "title": "x", "scale": {"domain": [0, 20], "nice": false, "zero": false}}, "y": {"field": "y", "type": "quantitative", "title": "y", "scale": {"domain": [-7.64, 8.11], "nice": false, "zero": false}}}},
 {"data": {"name": "cross"}, "transform": [{"filter": "datum.it === 4"}],
  "mark": {"type": "rule", "color": "#111111", "strokeWidth": 1.2},
  "encoding": {"x": {"field": "x1", "type": "quantitative", "title": "x", "scale": {"domain": [0, 20], "nice": false, "zero": false}}, "x2": {"field": "x2"}, "y": {"field": "cy", "type": "quantitative", "title": "y", "scale": {"domain": [-7.64, 8.11], "nice": false, "zero": false}}}},
 {"data": {"name": "cross"}, "transform": [{"filter": "datum.it === 4"}],
  "mark": {"type": "rule", "color": "#111111", "strokeWidth": 1.2},
  "encoding": {"x": {"field": "cx", "type": "quantitative", "title": "x", "scale": {"domain": [0, 20], "nice": false, "zero": false}}, "y": {"field": "y1", "type": "quantitative", "title": "y", "scale": {"domain": [-7.64, 8.11], "nice": false, "zero": false}}, "y2": {"field": "y2"}}}
]}
],
"resolve": {"scale": {"x": "independent", "y": "independent"}},
"config": {
 "view": {"stroke": null},
 "axis": {"domainColor": "#262626", "tickColor": "#262626", "domainWidth": 1, "tickWidth": 1, "labelFont": "Liberation Serif", "labelFontSize": 25, "labelColor": "#000000", "titleFont": "Liberation Serif", "titleFontSize": 33, "titleFontWeight": "normal", "titleColor": "#000000"},
 "title": {"font": "Liberation Serif", "fontSize": 40, "fontWeight": "normal", "anchor": "middle", "frame": "group", "offset": 3, "baseline": "alphabetic", "color": "#000000"}
}
}
